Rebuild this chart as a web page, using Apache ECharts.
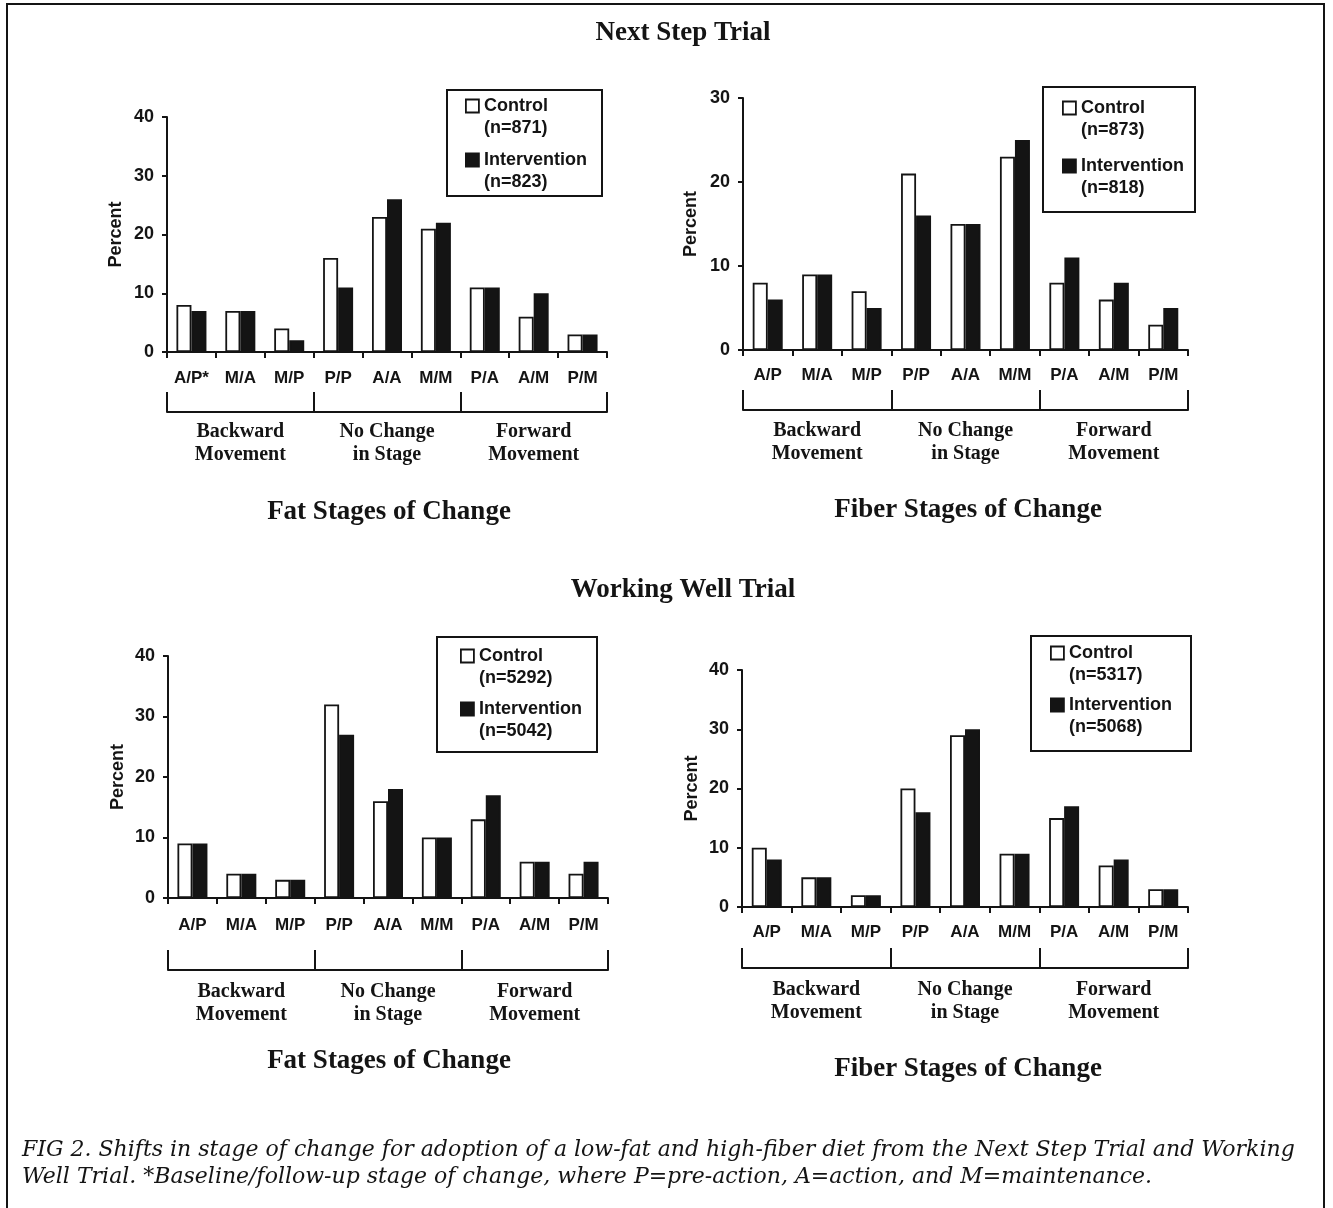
<!DOCTYPE html>
<html>
<head>
<meta charset="utf-8">
<title>Shifts in stage of change</title>
<script src="https://cdn.jsdelivr.net/npm/echarts@6/dist/echarts.min.js"></script>
<style>
  html, body { margin: 0; padding: 0; background: #fff; }
  #chart { width: 1333px; height: 1208px; }
</style>
</head>
<body>
<div id="chart"></div>
<script>
// data (percent)
const stagesFirst = ['A/P*', 'M/A', 'M/P', 'P/P', 'A/A', 'M/M', 'P/A', 'A/M', 'P/M']
const stages = ['A/P', 'M/A', 'M/P', 'P/P', 'A/A', 'M/M', 'P/A', 'A/M', 'P/M']
const groups = ['Backward\nMovement', 'No Change\nin Stage', 'Forward\nMovement']

const nsFatControl = [8, 7, 4, 16, 23, 21, 11, 6, 3]
const nsFatIntervention = [7, 7, 2, 11, 26, 22, 11, 10, 3]
const nsFiberControl = [8, 9, 7, 21, 15, 23, 8, 6, 3]
const nsFiberIntervention = [6, 9, 5, 16, 15, 25, 11, 8, 5]
const wwFatControl = [9, 4, 3, 32, 16, 10, 13, 6, 4]
const wwFatIntervention = [9, 4, 3, 27, 18, 10, 17, 6, 6]
const wwFiberControl = [10, 5, 2, 20, 29, 9, 15, 7, 3]
const wwFiberIntervention = [8, 5, 2, 16, 30, 9, 17, 8, 3]

const controlNames = ['Control (n=871)', 'Control (n=873)', 'Control (n=5292)', 'Control (n=5317)']
const interventionNames = ['Intervention (n=823)', 'Intervention (n=818)', 'Intervention (n=5042)', 'Intervention (n=5068)']
const yMax = [40, 30, 40, 40]

const SANS = 'Liberation Sans, Arial, sans-serif'
const SERIF = 'Liberation Serif, Times New Roman, serif'
const INK = '#141414'

// panel layout
const panels = [
  { grid: { left: 167, top: 117, width: 440, height: 235 }, cats: stagesFirst, ctrl: nsFatControl, intv: nsFatIntervention,
    lblMargin: 18, grpOffset: 60, grpMargin: 8, nameGap: 42, legend: { left: 465, top: 73, gap: -12 }, box: [447, 90, 155, 106] },
  { grid: { left: 743, top: 98, width: 445, height: 252 }, cats: stages, ctrl: nsFiberControl, intv: nsFiberIntervention,
    lblMargin: 17, grpOffset: 60, grpMargin: 9, nameGap: 43, legend: { left: 1062, top: 75, gap: -8 }, box: [1043, 87, 152, 125] },
  { grid: { left: 168, top: 656, width: 440, height: 242 }, cats: stages, ctrl: wwFatControl, intv: wwFatIntervention,
    lblMargin: 19, grpOffset: 72, grpMargin: 10, nameGap: 41, legend: { left: 460, top: 623, gap: -13 }, box: [437, 637, 160, 115] },
  { grid: { left: 742, top: 670, width: 446, height: 237 }, cats: stages, ctrl: wwFiberControl, intv: wwFiberIntervention,
    lblMargin: 17, grpOffset: 61, grpMargin: 10, nameGap: 41, legend: { left: 1050, top: 620, gap: -14 }, box: [1031, 636, 160, 115] },
]

const grid = [], xAxis = [], yAxis = [], series = [], legend = []
panels.forEach((p, k) => {
  grid.push(Object.assign({ containLabel: false }, p.grid))
  xAxis.push({
    type: 'category', gridIndex: k, data: p.cats,
    axisLine: { onZero: false, lineStyle: { color: INK, width: 2 } },
    axisTick: { show: true, length: 6, interval: 0, lineStyle: { color: INK, width: 2 } },
    axisLabel: { interval: 0, margin: p.lblMargin, color: INK, fontFamily: SANS, fontWeight: 'bold', fontSize: 17 },
  })
  xAxis.push({
    type: 'category', gridIndex: k, data: groups, position: 'bottom', offset: p.grpOffset,
    axisLine: { onZero: false, lineStyle: { color: INK, width: 2 } },
    axisTick: { show: true, inside: true, length: 20, interval: 0, lineStyle: { color: INK, width: 2 } },
    axisLabel: { interval: 0, margin: p.grpMargin, color: INK, fontFamily: SERIF, fontWeight: 'bold', fontSize: 20, lineHeight: 23 },
  })
  yAxis.push({
    type: 'value', gridIndex: k, min: 0, max: yMax[k], interval: 10,
    name: 'Percent', nameLocation: 'middle', nameGap: p.nameGap, nameRotate: 90,
    nameTextStyle: { color: INK, fontFamily: SANS, fontWeight: 'bold', fontSize: 18 },
    axisLine: { show: true, lineStyle: { color: INK, width: 2 } },
    axisTick: { show: true, length: 5, lineStyle: { color: INK, width: 2 } },
    axisLabel: { margin: 13, color: INK, fontFamily: SANS, fontWeight: 'bold', fontSize: 18 },
    splitLine: { show: false },
  })
  series.push({
    name: controlNames[k], type: 'bar', xAxisIndex: 2 * k, yAxisIndex: k, data: p.ctrl,
    barWidth: 15, barGap: '0%',
    itemStyle: { color: '#fff', borderColor: INK, borderWidth: 1.8 },
  })
  series.push({
    name: interventionNames[k], type: 'bar', xAxisIndex: 2 * k, yAxisIndex: k, data: p.intv,
    barWidth: 15, barGap: '0%',
    itemStyle: { color: INK, borderColor: INK, borderWidth: 1.8 },
  })
  legend.push({
    data: [controlNames[k], interventionNames[k]],
    orient: 'vertical', left: p.legend.left, top: p.legend.top, itemGap: p.legend.gap,
    padding: 0, itemWidth: 13, itemHeight: 13, icon: 'rect', selectedMode: false,
    itemStyle: { borderColor: INK, borderWidth: 1.8 },
    // blank first line so the marker sits beside the group name
    formatter: name => ' \n' + name.replace(' ', '\n'),
    textStyle: { color: INK, fontFamily: SANS, fontWeight: 'bold', fontSize: 18, lineHeight: 22 },
  })
})

function label(text, x, y, font) {
  return { type: 'text', x, y, style: { text, font, fill: INK, align: 'center', verticalAlign: 'middle' } }
}

const graphic = [
  { type: 'rect', shape: { x: 7, y: 4, width: 1317, height: 1240 }, style: { fill: 'none', stroke: INK, lineWidth: 2 } },
  label('Next Step Trial', 683, 33, 'bold 27px ' + SERIF),
  label('Working Well Trial', 683, 590, 'bold 27px ' + SERIF),
  label('Fat Stages of Change', 389, 512, 'bold 27px ' + SERIF),
  label('Fiber Stages of Change', 968, 510, 'bold 27px ' + SERIF),
  label('Fat Stages of Change', 389, 1061, 'bold 27px ' + SERIF),
  label('Fiber Stages of Change', 968, 1069, 'bold 27px ' + SERIF),
  { type: 'text', x: 22, y: 1150, style: {
      text: 'FIG 2. Shifts in stage of change for adoption of a low-fat and high-fiber diet from the Next Step Trial and Working',
      font: 'italic 22px DejaVu Serif, serif', fill: INK, verticalAlign: 'middle' } },
  { type: 'text', x: 22, y: 1177, style: {
      text: 'Well Trial. *Baseline/follow-up stage of change, where P=pre-action, A=action, and M=maintenance.',
      font: 'italic 22px DejaVu Serif, serif', fill: INK, verticalAlign: 'middle' } },
]
panels.forEach(p => {
  graphic.push({ type: 'rect', shape: { x: p.box[0], y: p.box[1], width: p.box[2], height: p.box[3] },
    style: { fill: 'none', stroke: INK, lineWidth: 2 } })
})

const chart = echarts.init(document.getElementById('chart'), null, { renderer: 'canvas' })
chart.setOption({
  backgroundColor: '#fff',
  animation: false,
  grid, xAxis, yAxis, series, legend, graphic,
})
window.addEventListener('resize', () => chart.resize())
</script>
</body>
</html>
